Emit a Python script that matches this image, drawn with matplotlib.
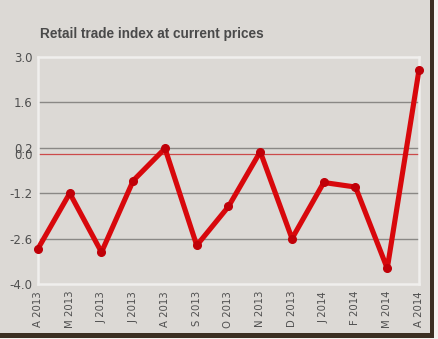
import numpy as np
import matplotlib
matplotlib.use('Agg')
import matplotlib.pyplot as plt
from matplotlib.patches import Rectangle

# monthly values, April 2013 .. April 2014
months = ["A 2013", "M 2013", "J 2013", "J 2013", "A 2013", "S 2013", "O 2013",
          "N 2013", "D 2013", "J 2014", "F 2014", "M 2014", "A 2014"]
values = [-2.91, -1.20, -3.02, -0.81, 0.18, -2.81, -1.61,
          0.08, -2.60, -0.87, -1.01, -3.52, 2.60]
yticks = [3.0, 1.6, 0.2, 0.0, -1.2, -2.6, -4.0]
grid_levels = [1.6, 0.2, -1.2, -2.6]

W, H = 439, 339
fig = plt.figure(figsize=(W / 100, H / 100), dpi=100)
fig.patch.set_facecolor('#f4f2ef')


def px_rect(x0, y0, x1, y1, color):
    # rectangle given in pixels from the top-left corner
    fig.patches.append(Rectangle((x0 / W, 1 - y1 / H), (x1 - x0) / W, (y1 - y0) / H,
                                 transform=fig.transFigure, facecolor=color,
                                 edgecolor='none', zorder=-10))


# panel with a dark shadow edge on the right and bottom
px_rect(0, 0, 434, 338, '#3b2f22')
px_rect(0, 0, 430, 333, '#dcd9d5')

ax = fig.add_axes([38 / W, 1 - 284 / H, 381 / W, 227 / H])
ax.set_facecolor('#dcd9d5')
x = np.arange(len(values))

for g in grid_levels:
    ax.axhline(g, color='#8a8885', lw=1.0, zorder=1)
ax.axhline(0.0, color='#cc4a4a', lw=0.9, zorder=1)

ax.plot(x, values, color='#d8080c', lw=3.7, solid_joinstyle='round',
        marker='o', ms=5.5, mfc='#c00008', mec='#c00008', zorder=3, clip_on=False)

ax.set_xlim(0, len(values) - 1)
ax.set_ylim(-4.0, 3.0)
ax.set_yticks(yticks)
ax.set_yticklabels([f"{v:.1f}" for v in yticks], fontsize=8.5, color='#4f4f4f')
ax.set_xticks(x)
ax.set_xticklabels(months, rotation=90, fontsize=7.3, color='#4f4f4f')
ax.tick_params(length=0, pad=4)
ax.tick_params(axis='x', pad=5)
for s in ax.spines.values():
    s.set_color('#f0efed')
    s.set_linewidth(1.8)

fig.text(40 / W, 1 - 34 / H, "Retail trade index at current prices",
         fontsize=9.8, fontweight='bold', color='#4a4a4a',
         family='Liberation Sans', va='center', ha='left')

fig.savefig('out.png', dpi=100, facecolor=fig.get_facecolor())
